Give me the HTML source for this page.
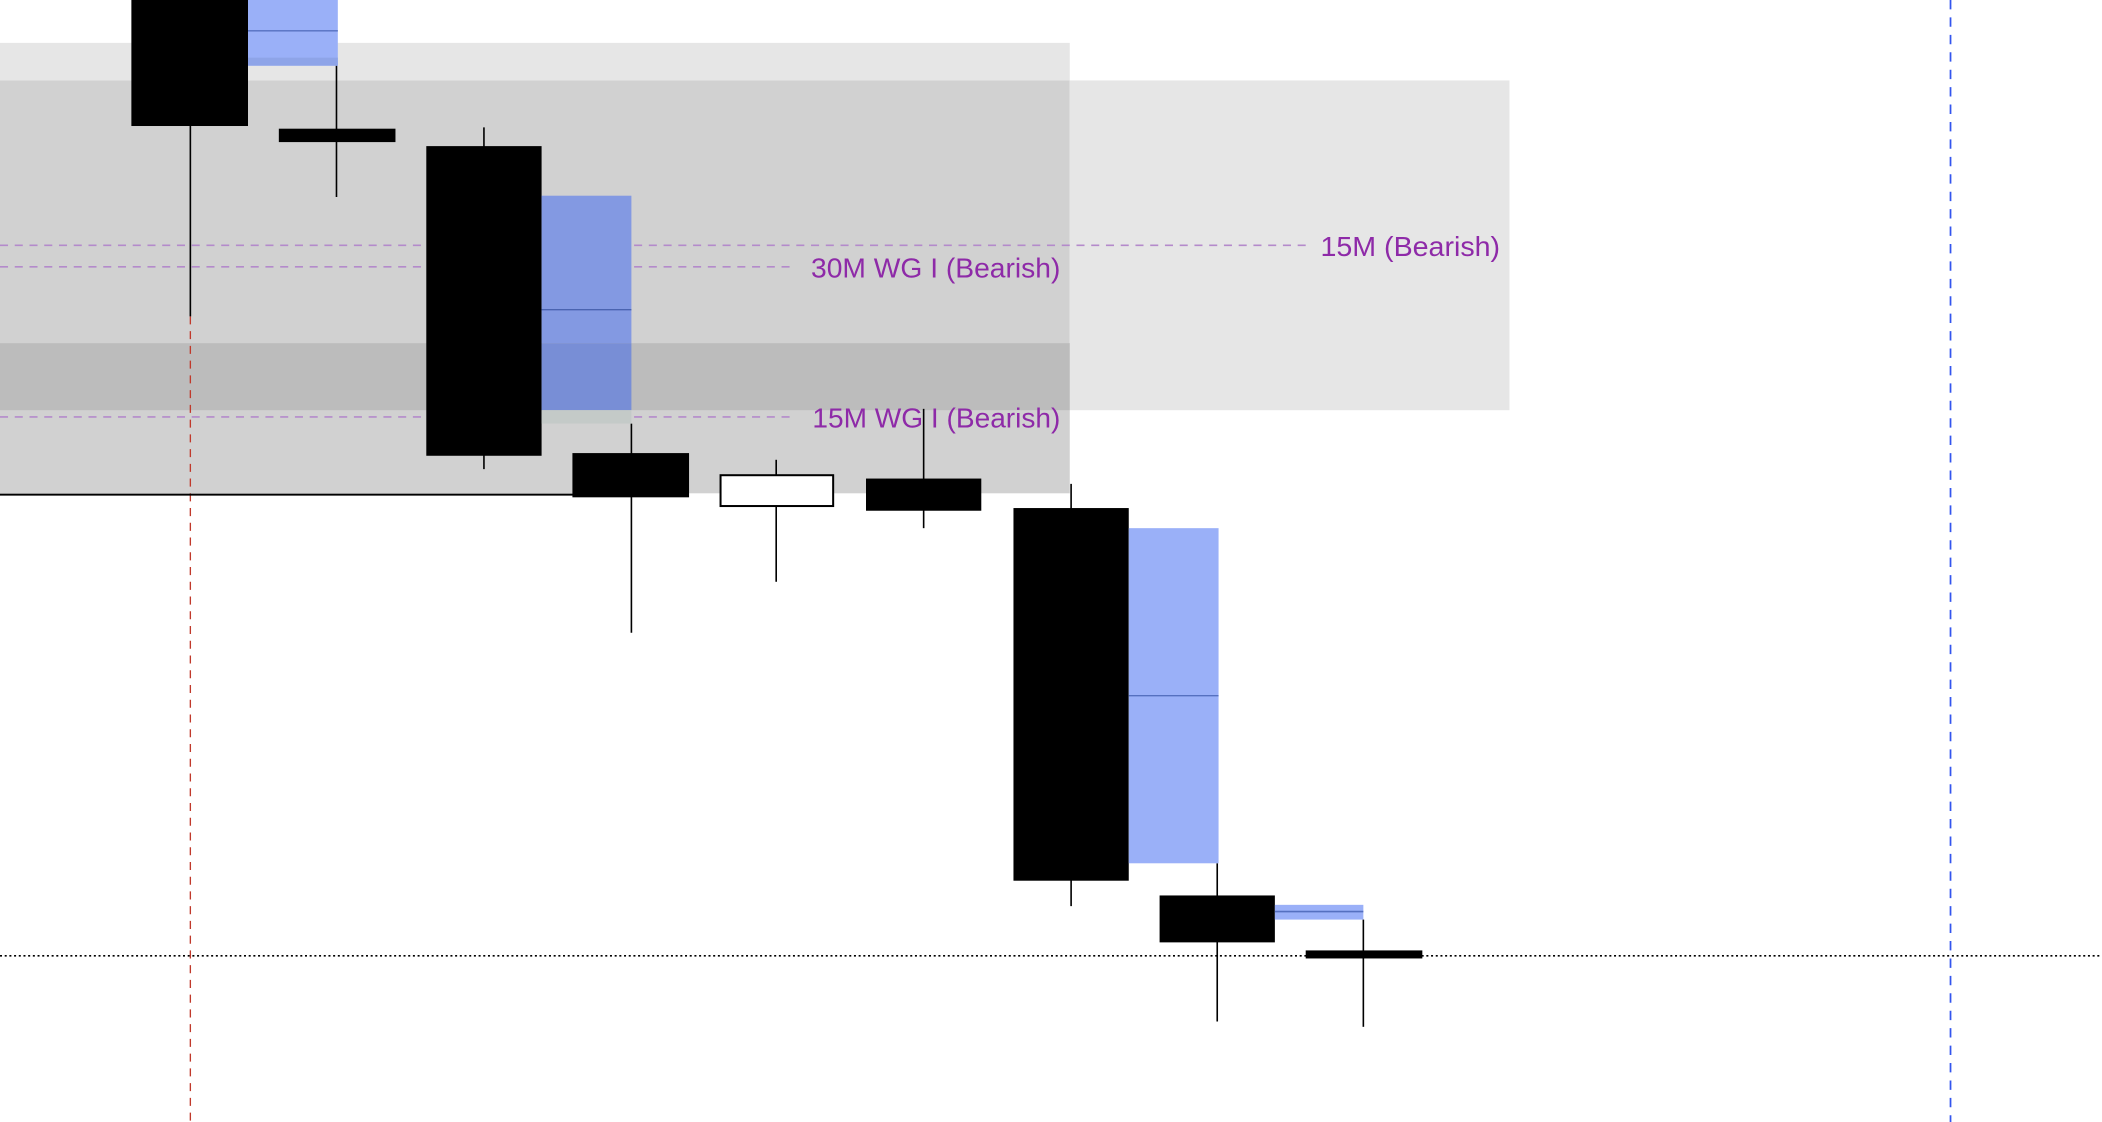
<!DOCTYPE html>
<html><head><meta charset="utf-8"><style>html,body{margin:0;padding:0;background:#fff;overflow:hidden}svg{display:block}</style></head>
<body>
<svg width="2102" height="1122" viewBox="0 0 1568 837" preserveAspectRatio="none" xmlns="http://www.w3.org/2000/svg">
<rect width="1568" height="837" fill="#fff"/>
<rect x="0" y="32" width="798" height="28" fill="#e6e6e6"/>
<rect x="0" y="60" width="798" height="308" fill="#d1d1d1"/>
<rect x="798" y="60" width="328" height="246" fill="#e6e6e6"/>
<rect x="0" y="256" width="798" height="50" fill="#bcbcbc"/>
<line x1="142" y1="236" x2="142" y2="837" stroke="#c0392b" stroke-width="1" stroke-dasharray="6,5"/>
<line x1="1455" y1="0" x2="1455" y2="837" stroke="#3355ee" stroke-width="1.3" stroke-dasharray="7,6"/>
<g stroke="#b48acb" stroke-width="1.2" stroke-dasharray="6,5">
<line x1="0" y1="183" x2="975" y2="183"/>
<line x1="0" y1="199" x2="592" y2="199"/>
<line x1="0" y1="311" x2="592" y2="311"/>
</g>
<line x1="0" y1="369" x2="428" y2="369" stroke="#000" stroke-width="1.5"/>
<line x1="0" y1="713" x2="1568" y2="713" stroke="#000" stroke-width="1.2" stroke-dasharray="1.5,2"/>
<g stroke="#000" stroke-width="1.2">
<line x1="142" y1="94" x2="142" y2="236"/>
<line x1="251" y1="49" x2="251" y2="147"/>
<line x1="361" y1="95" x2="361" y2="350"/>
<line x1="471" y1="316" x2="471" y2="472"/>
<line x1="579" y1="343" x2="579" y2="434"/>
<line x1="689" y1="305" x2="689" y2="394"/>
<line x1="799" y1="361" x2="799" y2="676"/>
<line x1="908" y1="644" x2="908" y2="762"/>
<line x1="1017" y1="686" x2="1017" y2="766"/>
</g>
<rect x="98" y="0" width="87" height="94" fill="#000"/>
<rect x="185" y="0" width="67" height="49" fill="#9ab0f8"/>
<rect x="185" y="43" width="67" height="6" fill="#8ea4e8"/>
<line x1="185" y1="23" x2="252" y2="23" stroke="#5570c0" stroke-width="1"/>
<rect x="208" y="96" width="87" height="10" fill="#000"/>
<rect x="318" y="109" width="86" height="231" fill="#000"/>
<rect x="404" y="146" width="67" height="110" fill="#8399e2"/>
<rect x="404" y="256" width="67" height="50" fill="#788ed6"/>
<rect x="404" y="306" width="67" height="10" fill="#c4cac8"/>
<line x1="404" y1="231" x2="471" y2="231" stroke="#4a63b0" stroke-width="1"/>
<rect x="427" y="338" width="87" height="33" fill="#000"/>
<rect x="537.5" y="354.5" width="84" height="23" fill="#fff" stroke="#000" stroke-width="1.5"/>
<rect x="646" y="357" width="86" height="24" fill="#000"/>
<rect x="756" y="379" width="86" height="278" fill="#000"/>
<rect x="842" y="394" width="67" height="250" fill="#9ab0f8"/>
<line x1="842" y1="519" x2="909" y2="519" stroke="#5570c0" stroke-width="1"/>
<rect x="865" y="668" width="86" height="35" fill="#000"/>
<rect x="951" y="675" width="66" height="11" fill="#9ab0f8"/>
<line x1="951" y1="680" x2="1017" y2="680" stroke="#5570c0" stroke-width="1.2"/>
<rect x="974" y="709" width="87" height="6" fill="#000"/>
<g font-family="Liberation Sans, sans-serif" font-size="20.5" fill="#8e2aa8">
<text x="985" y="191" textLength="134" lengthAdjust="spacingAndGlyphs">15M (Bearish)</text>
<text x="605" y="207" textLength="186" lengthAdjust="spacingAndGlyphs">30M WG I (Bearish)</text>
<text x="606" y="319" textLength="185" lengthAdjust="spacingAndGlyphs">15M WG I (Bearish)</text>
</g>
</svg>
</body></html>
